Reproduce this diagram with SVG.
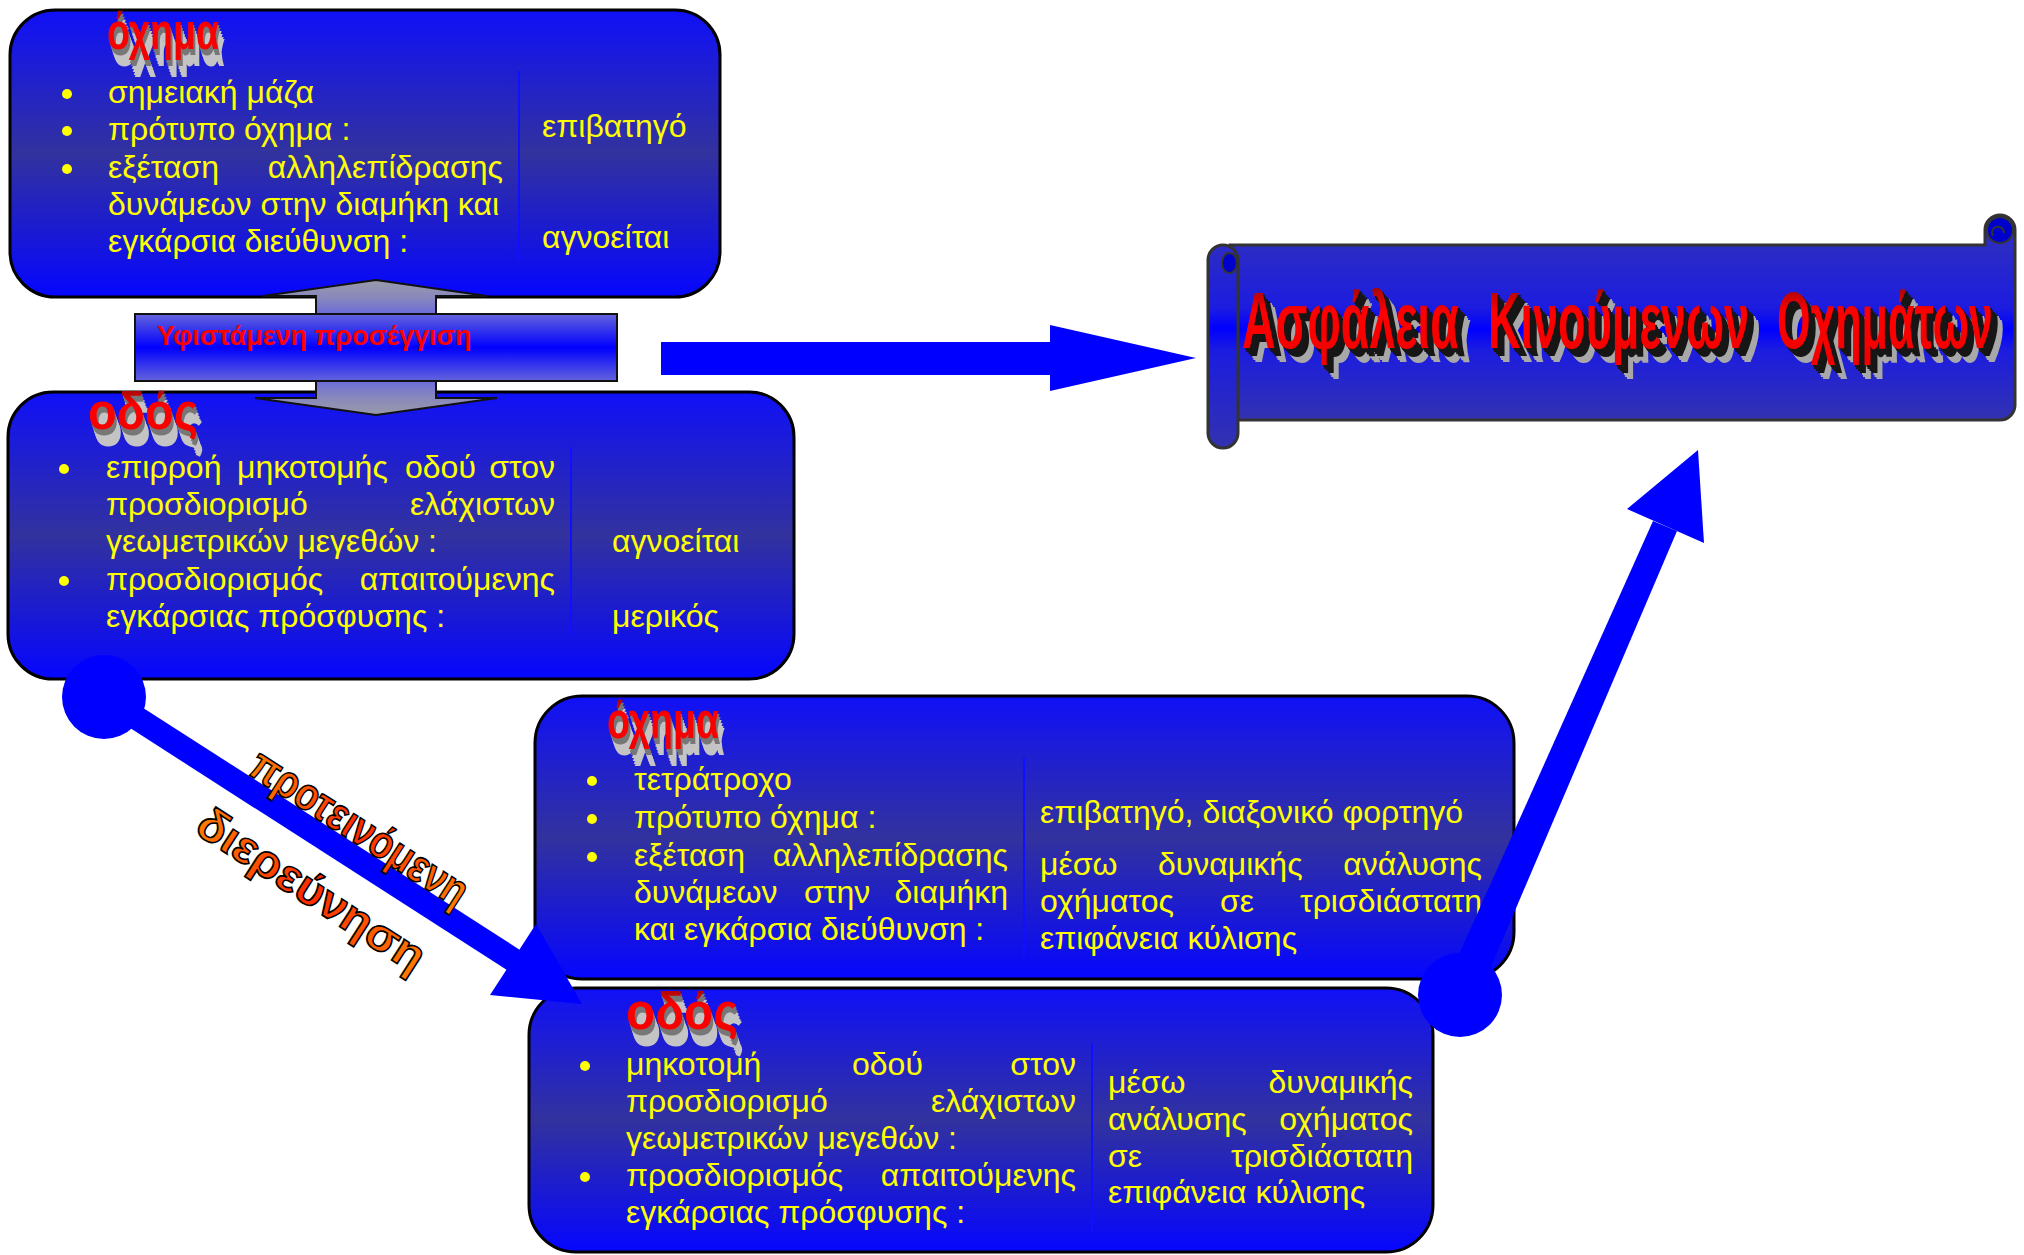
<svg xmlns="http://www.w3.org/2000/svg" width="2024" height="1255" viewBox="0 0 2024 1255">
<defs>
<style>
.box{fill:url(#gBox);stroke:#000;stroke-width:3}
.t{font-family:"Liberation Sans",Arial,sans-serif;font-size:32px;fill:#ffff00}
.bul{fill:#ffff00}
.dv{stroke:#1010ff;stroke-width:2}
.h3d{font-family:"Liberation Sans",Arial,sans-serif;font-weight:bold;font-size:52px;fill:url(#gRed);filter:url(#ext)}
.ttl{font-family:"Liberation Sans",Arial,sans-serif;font-weight:bold;font-size:80px;fill:url(#gRed);filter:url(#extT)}
.rot{font-family:"Liberation Sans",Arial,sans-serif;font-weight:bold;font-size:46px;fill:url(#gOrange);stroke:#000;stroke-width:1.6}
.arr{fill:#0000ff}
.scr{stroke:#333;stroke-width:3}
</style>
<linearGradient id="gBox" x1="0" y1="0" x2="0" y2="1">
<stop offset="0" stop-color="#1010f8"/>
<stop offset="0.5" stop-color="#32329e"/>
<stop offset="1" stop-color="#0606ff"/>
</linearGradient>
<linearGradient id="gScroll" gradientUnits="userSpaceOnUse" x1="0" y1="245" x2="0" y2="420">
<stop offset="0" stop-color="#2c2cc4"/>
<stop offset="0.36" stop-color="#1c1ce0"/>
<stop offset="0.48" stop-color="#0000ff"/>
<stop offset="0.6" stop-color="#1c1ce0"/>
<stop offset="1" stop-color="#3232b0"/>
</linearGradient>
<linearGradient id="gRoll" gradientUnits="userSpaceOnUse" x1="0" y1="245" x2="0" y2="448">
<stop offset="0" stop-color="#2c2cc4"/>
<stop offset="0.31" stop-color="#1c1ce0"/>
<stop offset="0.41" stop-color="#0000ff"/>
<stop offset="0.52" stop-color="#1c1ce0"/>
<stop offset="1" stop-color="#3232b0"/>
</linearGradient>
<linearGradient id="gDbl" gradientUnits="userSpaceOnUse" x1="0" y1="280" x2="0" y2="415">
<stop offset="0" stop-color="#9a9aaa"/>
<stop offset="0.13" stop-color="#8888bc"/>
<stop offset="0.26" stop-color="#6a6adc"/>
<stop offset="0.5" stop-color="#3030f0"/>
<stop offset="0.74" stop-color="#6a6adc"/>
<stop offset="0.87" stop-color="#8888bc"/>
<stop offset="1" stop-color="#9a9aaa"/>
</linearGradient>
<linearGradient id="gBanner" x1="0" y1="0" x2="0" y2="1">
<stop offset="0" stop-color="#6464dc"/>
<stop offset="0.5" stop-color="#0000ff"/>
<stop offset="1" stop-color="#6464dc"/>
</linearGradient>
<linearGradient id="gRed" x1="0" y1="0" x2="0" y2="1">
<stop offset="0" stop-color="#7a0a0a"/>
<stop offset="0.4" stop-color="#ff0000"/>
<stop offset="1" stop-color="#f00000"/>
</linearGradient>
<linearGradient id="gOrange" x1="0" y1="0" x2="1" y2="0">
<stop offset="0" stop-color="#ff7a00"/>
<stop offset="0.5" stop-color="#ff2a00"/>
<stop offset="1" stop-color="#ff7a00"/>
</linearGradient>
<filter id="ext" x="-5%" y="-10%" width="125%" height="180%" color-interpolation-filters="sRGB">
<feOffset in="SourceAlpha" dx="1" dy="3" result="a1"/>
<feOffset in="SourceAlpha" dx="2" dy="6" result="a2"/>
<feOffset in="SourceAlpha" dx="3" dy="9" result="a3"/>
<feOffset in="SourceAlpha" dx="4" dy="12" result="a4"/>
<feOffset in="SourceAlpha" dx="5" dy="15" result="a5"/>
<feOffset in="SourceAlpha" dx="6" dy="17" result="a6"/>
<feMerge result="far"><feMergeNode in="a3"/><feMergeNode in="a4"/><feMergeNode in="a5"/><feMergeNode in="a6"/></feMerge>
<feFlood flood-color="#c4c4c4"/>
<feComposite operator="in" in2="far" result="farC"/>
<feMerge result="near"><feMergeNode in="a1"/><feMergeNode in="a2"/></feMerge>
<feFlood flood-color="#777"/>
<feComposite operator="in" in2="near" result="nearC"/>
<feMerge><feMergeNode in="farC"/><feMergeNode in="nearC"/><feMergeNode in="SourceGraphic"/></feMerge>
</filter>
<filter id="extT" x="-5%" y="-10%" width="125%" height="160%" color-interpolation-filters="sRGB">
<feOffset in="SourceAlpha" dx="3" dy="2" result="a1"/>
<feOffset in="SourceAlpha" dx="6" dy="4" result="a2"/>
<feOffset in="SourceAlpha" dx="9" dy="6" result="a3"/>
<feOffset in="SourceAlpha" dx="12" dy="8" result="a4"/>
<feOffset in="SourceAlpha" dx="15" dy="10" result="a5"/>
<feOffset in="SourceAlpha" dx="18" dy="12" result="a6"/>
<feOffset in="SourceAlpha" dx="20" dy="14" result="a7"/>
<feMerge result="far"><feMergeNode in="a5"/><feMergeNode in="a6"/><feMergeNode in="a7"/></feMerge>
<feFlood flood-color="#a8a8a8"/>
<feComposite operator="in" in2="far" result="farC"/>
<feMerge result="near"><feMergeNode in="a1"/><feMergeNode in="a2"/><feMergeNode in="a3"/><feMergeNode in="a4"/></feMerge>
<feFlood flood-color="#161616"/>
<feComposite operator="in" in2="near" result="nearC"/>
<feMerge><feMergeNode in="farC"/><feMergeNode in="nearC"/><feMergeNode in="SourceGraphic"/></feMerge>
</filter>
</defs>
<rect width="2024" height="1255" fill="#fff"/>

<g id="node-vehicle-current">
<rect class="box" x="10" y="10" width="710" height="287" rx="45"/>
<text class="h3d" x="107" y="49" textLength="112" lengthAdjust="spacingAndGlyphs">όχημα</text>
<circle class="bul" cx="67" cy="94" r="5"/>
<circle class="bul" cx="67" cy="131" r="5"/>
<circle class="bul" cx="67" cy="169" r="5"/>
<text class="t" x="108" y="103">σημειακή μάζα</text>
<text class="t" x="108" y="140">πρότυπο όχημα :</text>
<text class="t" y="178"><tspan x="108">εξέταση</tspan> <tspan x="503" text-anchor="end">αλληλεπίδρασης</tspan></text>
<text class="t" x="108" y="215">δυνάμεων στην διαμήκη και</text>
<text class="t" x="108" y="252">εγκάρσια διεύθυνση :</text>
<line class="dv" x1="519" y1="71" x2="519" y2="262"/>
<text class="t" x="542" y="137">επιβατηγό</text>
<text class="t" x="542" y="248">αγνοείται</text>
</g>

<g id="node-road-current">
<rect class="box" x="8" y="392" width="786" height="287" rx="45"/>
<text class="h3d" x="88" y="429" textLength="110" lengthAdjust="spacingAndGlyphs">οδός</text>
<circle class="bul" cx="64" cy="469" r="5"/>
<circle class="bul" cx="64" cy="581" r="5"/>
<text class="t" y="478"><tspan x="106">επιρροή</tspan> <tspan x="237">μηκοτομής</tspan> <tspan x="405">οδού</tspan> <tspan x="555" text-anchor="end">στον</tspan></text>
<text class="t" y="515"><tspan x="106">προσδιορισμό</tspan> <tspan x="555" text-anchor="end">ελάχιστων</tspan></text>
<text class="t" x="106" y="552">γεωμετρικών μεγεθών :</text>
<text class="t" y="590"><tspan x="106">προσδιορισμός</tspan> <tspan x="555" text-anchor="end">απαιτούμενης</tspan></text>
<text class="t" x="106" y="627">εγκάρσιας πρόσφυσης :</text>
<line class="dv" x1="571" y1="447" x2="571" y2="635"/>
<text class="t" x="612" y="552">αγνοείται</text>
<text class="t" x="612" y="627">μερικός</text>
</g>

<g id="node-current-approach">
<path d="M376 280 L487 296 L436 296 L436 398 L497 398 L376 415 L255 398 L316 398 L316 296 L263 296 Z" fill="url(#gDbl)" stroke="#111" stroke-width="2"/>
<rect x="135" y="314" width="482" height="67" fill="url(#gBanner)" stroke="#111" stroke-width="2"/>
<text x="157" y="345" font-family="Liberation Sans, Arial, sans-serif" font-weight="bold" font-size="27" fill="#ff0000">Υφιστάμενη προσέγγιση</text>
</g>

<g id="node-title">
<path class="scr" d="M1230 245 H1985 V230 A15 15 0 0 1 2015 230 V405 A15 15 0 0 1 2000 420 H1230 Z" fill="url(#gScroll)"/>
<circle cx="2000" cy="230" r="13" fill="#0000cc" stroke="#333" stroke-width="2"/>
<path d="M1993 236 A6 6 0 1 1 2004 233" fill="none" stroke="#333" stroke-width="2"/>
<path class="scr" d="M1208 260 A15 15 0 0 1 1238 260 V433 A15 15 0 0 1 1208 433 Z" fill="url(#gRoll)"/>
<ellipse cx="1229.5" cy="263" rx="7.5" ry="10" fill="#0000cc" stroke="#333" stroke-width="2"/>
<text class="ttl" transform="translate(1242,348) scale(0.58,1)" textLength="374" lengthAdjust="spacingAndGlyphs">Ασφάλεια</text>
<text class="ttl" transform="translate(1488,348) scale(0.58,1)" textLength="450" lengthAdjust="spacingAndGlyphs">Κινούμενων</text>
<text class="ttl" transform="translate(1777,348) scale(0.58,1)" textLength="372" lengthAdjust="spacingAndGlyphs">Οχημάτων</text>
</g>

<g id="node-vehicle-proposed">
<rect class="box" x="535" y="696" width="979" height="283" rx="47"/>
<text class="h3d" x="607" y="738" textLength="112" lengthAdjust="spacingAndGlyphs">όχημα</text>
<circle class="bul" cx="592" cy="781" r="5"/>
<circle class="bul" cx="592" cy="819" r="5"/>
<circle class="bul" cx="592" cy="857" r="5"/>
<text class="t" x="634" y="790">τετράτροχο</text>
<text class="t" x="634" y="828">πρότυπο όχημα :</text>
<text class="t" y="866"><tspan x="634">εξέταση</tspan> <tspan x="1008" text-anchor="end">αλληλεπίδρασης</tspan></text>
<text class="t" y="903"><tspan x="634">δυνάμεων</tspan> <tspan x="804">στην</tspan> <tspan x="1008" text-anchor="end">διαμήκη</tspan></text>
<text class="t" x="634" y="940">και εγκάρσια διεύθυνση :</text>
<line class="dv" x1="1024" y1="758" x2="1024" y2="956"/>
<text class="t" x="1040" y="823">επιβατηγό, διαξονικό φορτηγό</text>
<text class="t" y="875"><tspan x="1040">μέσω</tspan> <tspan x="1158">δυναμικής</tspan> <tspan x="1482" text-anchor="end">ανάλυσης</tspan></text>
<text class="t" y="912"><tspan x="1040">οχήματος</tspan> <tspan x="1220">σε</tspan> <tspan x="1482" text-anchor="end">τρισδιάστατη</tspan></text>
<text class="t" x="1040" y="949">επιφάνεια κύλισης</text>
</g>

<g id="node-road-proposed">
<rect class="box" x="529" y="988" width="904" height="264" rx="47"/>
<text class="h3d" x="626" y="1029" textLength="112" lengthAdjust="spacingAndGlyphs">οδός</text>
<circle class="bul" cx="585" cy="1066" r="5"/>
<circle class="bul" cx="585" cy="1177" r="5"/>
<text class="t" y="1075"><tspan x="626">μηκοτομή</tspan> <tspan x="852">οδού</tspan> <tspan x="1076" text-anchor="end">στον</tspan></text>
<text class="t" y="1112"><tspan x="626">προσδιορισμό</tspan> <tspan x="1076" text-anchor="end">ελάχιστων</tspan></text>
<text class="t" x="626" y="1149">γεωμετρικών μεγεθών :</text>
<text class="t" y="1186"><tspan x="626">προσδιορισμός</tspan> <tspan x="1076" text-anchor="end">απαιτούμενης</tspan></text>
<text class="t" x="626" y="1223">εγκάρσιας πρόσφυσης :</text>
<line class="dv" x1="1092" y1="1043" x2="1092" y2="1232"/>
<text class="t" y="1093"><tspan x="1108">μέσω</tspan> <tspan x="1413" text-anchor="end">δυναμικής</tspan></text>
<text class="t" y="1130"><tspan x="1108">ανάλυσης</tspan> <tspan x="1413" text-anchor="end">οχήματος</tspan></text>
<text class="t" y="1167"><tspan x="1108">σε</tspan> <tspan x="1413" text-anchor="end">τρισδιάστατη</tspan></text>
<text class="t" x="1108" y="1203">επιφάνεια κύλισης</text>
</g>

<g id="connectors">
<path class="arr" d="M661 342 H1050 V325 L1196 358 L1050 391 V375 H661 Z"/>
<line x1="104" y1="697" x2="515" y2="961" stroke="#0000ff" stroke-width="24"/>
<circle class="arr" cx="104" cy="697" r="42"/>
<polygon class="arr" points="582,1004 490,995 536,924"/>
<text class="rot" transform="translate(246,773) rotate(32.8)" textLength="250" lengthAdjust="spacingAndGlyphs">προτεινόμενη</text>
<text class="rot" transform="translate(193,832) rotate(32.8)" textLength="262" lengthAdjust="spacingAndGlyphs">διερεύνηση</text>
<polygon class="arr" points="1444,988 1476,1002 1677,531 1653,521"/>
<circle class="arr" cx="1460" cy="995" r="42"/>
<polygon class="arr" points="1698,450 1627,509 1704,543"/>
</g>
</svg>
